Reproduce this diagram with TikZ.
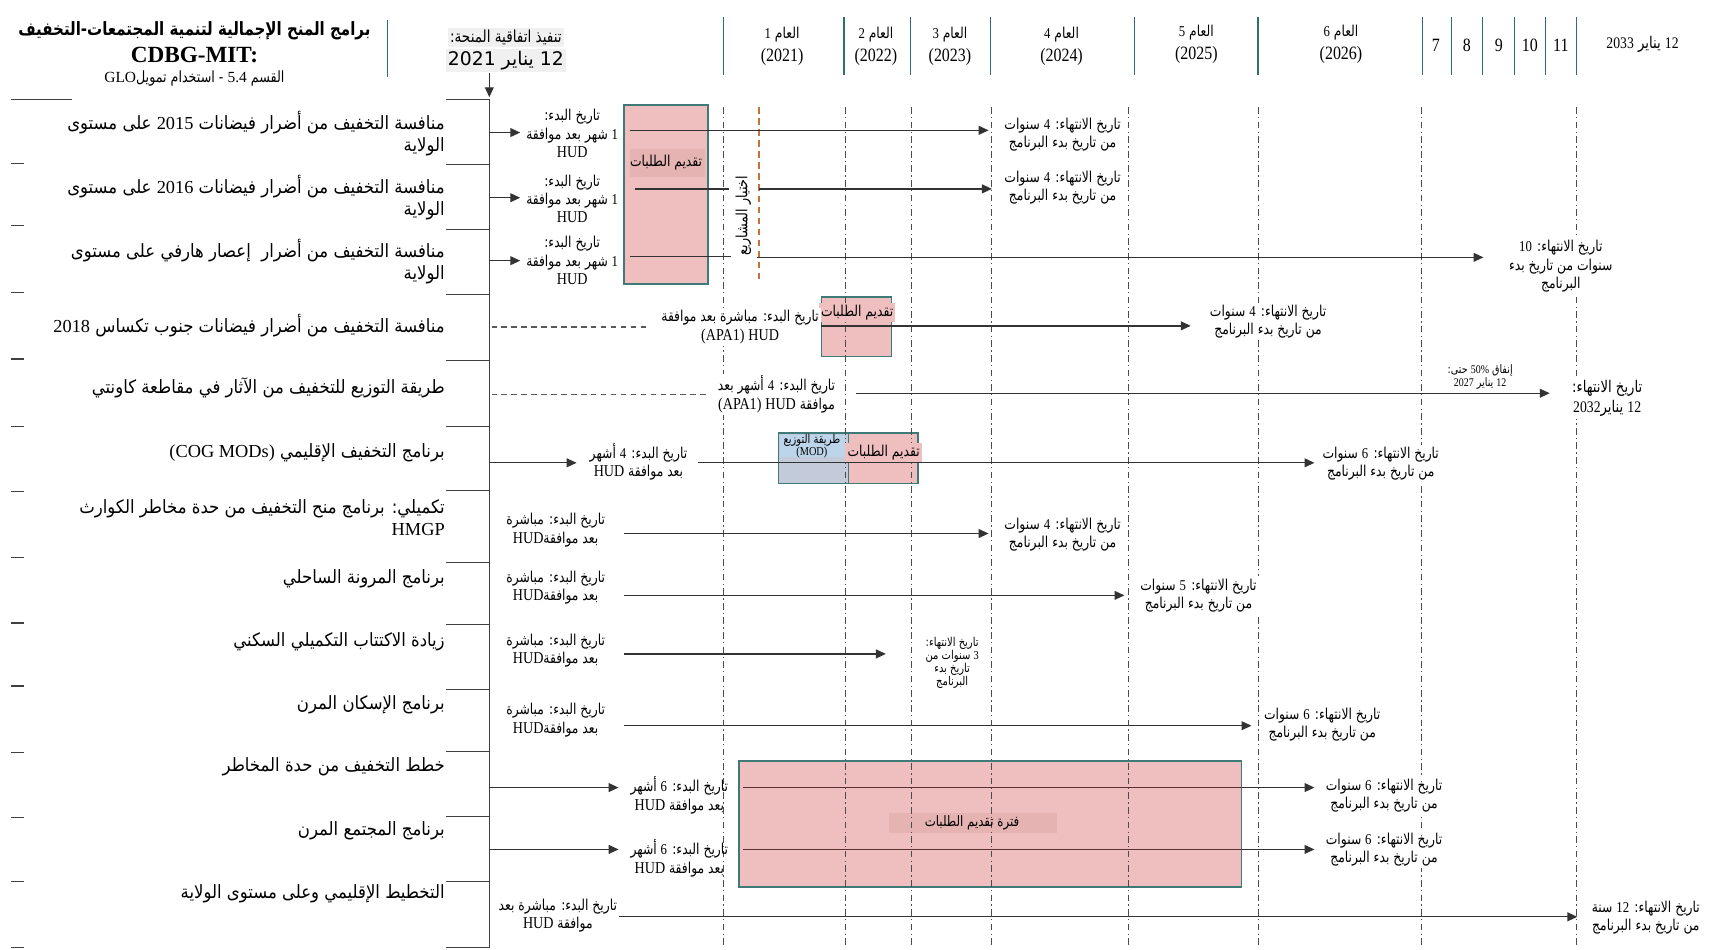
\documentclass[tikz,border=0pt]{standalone}
\usepackage{fontspec}
\setmainfont{Liberation Serif}
\newfontfamily\arabicfont[Script=Arabic]{DejaVu Sans}
\newfontfamily\arabicmid[Script=Arabic,FakeStretch=0.9]{DejaVu Sans}
\newfontfamily\arabicnarrow[Script=Arabic,FakeStretch=0.82]{DejaVu Sans}
\newfontfamily\serifnarrow[FakeStretch=0.85]{Liberation Serif}
\TeXXeTstate=1
\usetikzlibrary{arrows.meta}
\definecolor{pinkf}{HTML}{EFBFBF}
\definecolor{pinkd}{HTML}{E6B3B3}
\definecolor{tealb}{HTML}{3D7A78}
\definecolor{hdrteal}{HTML}{2F6F6B}
\definecolor{bluef}{HTML}{C3CAD9}
\definecolor{bluel}{HTML}{BDD5EA}
\definecolor{orng}{HTML}{C8703C}
\definecolor{maroon}{HTML}{5A3030}
\newcommand{\AR}[1]{\beginR #1\endR}
\newcommand{\LT}[1]{{\serifnarrow #1}}
\newcommand{\LR}[1]{{\rmfamily #1}}
\newcommand{\fsz}[2]{\fontsize{#1}{#2}\selectfont}
\tikzset{
  rowlbl/.style={anchor=east, align=right, inner sep=0pt, font=\arabicmid\fsz{8.3}{10}},
  smlbl/.style={align=center, inner sep=1pt, fill=white, font=\arabicnarrow\fsz{6.8}{8.3}},
  hdrlbl/.style={align=center, inner sep=0pt, font=\arabicnarrow\fsz{6.8}{10.5}},
  gridv/.style={draw=black!70, line width=0.4pt, dash pattern=on 3pt off 1.5pt on 0.6pt off 1.5pt},
  hdrv/.style={draw=hdrteal, line width=0.6pt},
  arrw/.style={draw=black!80, line width=0.6pt, -{Triangle[length=4.5pt,width=4pt]}},
  plainln/.style={draw=black!80, line width=0.6pt},
  dashln/.style={draw=black!65, line width=0.6pt, dash pattern=on 2.5pt off 2pt},
  seph/.style={draw=black!75, line width=0.5pt},
  pinkbx/.style={fill=pinkf, draw=tealb, line width=0.6pt},
  boxtxt/.style={inner sep=1pt, font=\arabicnarrow\fsz{6.8}{8}},
}
\begin{document}
\begin{tikzpicture}[x=0.5pt,y=-0.5pt]
\useasboundingbox (0,0) rectangle (1568,860);

% ---------- title ----------
\node[font=\arabicnarrow\bfseries\fsz{8.3}{10}] (t1) at (176,28) {\AR{برامج المنح الإجمالية لتنمية المجتمعات-التخفيف}};
\node[font=\bfseries\fsz{10.5}{12}] (t2) at (176,50) {CDBG-MIT:};
\node[font=\arabicnarrow\fsz{7}{8}] (t3) at (176,71) {\AR{القسم \LR{5.4} - استخدام تمويل\LR{GLO}}};
\draw[hdrv] (351,18) -- (351,70);

% ---------- grant agreement ----------
\node[fill=black!6, inner sep=1pt, font=\arabicnarrow\fsz{7.5}{9}] (g1) at (458,34) {\AR{تنفيذ اتفاقية المنحة:}};
\node[fill=black!6, inner sep=1pt, font=\arabicfont\fsz{8.5}{10}] (g2) at (458,55) {\AR{12 يناير 2021}};
\coordinate (gtop) at (443,66);
\coordinate (spinetop) at (443,88);
\coordinate (spinebot) at (443,858);
\draw[arrw] (gtop) -- (spinetop);
\draw[seph] (443,90) -- (spinebot);

% ---------- header years ----------
\foreach \xx in {655,764,824,897,1027,1139,1288,1314,1342,1371,1399,1427}
  \draw[hdrv] (\xx,15) -- (\xx,68);
\node[hdrlbl] (y1) at (708,42) {\AR{العام \LT{1}}\\\LT{\fsz{8.5}{10.5}(2021)}};
\node[hdrlbl] (y2) at (793,42) {\AR{العام \LT{2}}\\\LT{\fsz{8.5}{10.5}(2022)}};
\node[hdrlbl] (y3) at (860,42) {\AR{العام \LT{3}}\\\LT{\fsz{8.5}{10.5}(2023)}};
\node[hdrlbl] (y4) at (961,42) {\AR{العام \LT{4}}\\\LT{\fsz{8.5}{10.5}(2024)}};
\node[hdrlbl] (y5) at (1083,40) {\AR{العام \LT{5}}\\\LT{\fsz{8.5}{10.5}(2025)}};
\node[hdrlbl] (y6) at (1214,40) {\AR{العام \LT{6}}\\\LT{\fsz{8.5}{10.5}(2026)}};
\node[font=\serifnarrow\fsz{8.5}{10}] (y7) at (1300,41) {7};
\node[font=\serifnarrow\fsz{8.5}{10}] (y8) at (1328,41) {8};
\node[font=\serifnarrow\fsz{8.5}{10}] (y9) at (1357,41) {9};
\node[font=\serifnarrow\fsz{8.5}{10}] (y10) at (1385,41) {10};
\node[font=\serifnarrow\fsz{8.5}{10}] (y11) at (1413,41) {11};
\node[font=\arabicnarrow\fsz{7.3}{9}] (yend) at (1487,40) {\AR{\LT{12} يناير \LT{2033}}};

% ---------- left separators ----------
\draw[seph] (10,90) -- (65,90);
\foreach \yy in {148,204,265,325,386,445,505,564,621,681,740,798,858}
  \draw[seph] (10,\yy) -- (22,\yy);
\foreach \yy in {90,149,208,267,326,386,444,509,565,624,680,739,798,858}
  \draw[seph] (404,\yy) -- (443,\yy);

% ---------- boxes ----------
\draw[pinkbx] (565,95) rectangle (641,257);
\fill[pinkd] (570,135) rectangle (638,160);
\draw[pinkbx] (744,269) rectangle (807,323);
\draw[fill=bluef, draw=tealb, line width=0.6pt] (705,392) rectangle (768,438);
\fill[bluel] (706,394) rectangle (765,414);
\draw[pinkbx] (768,392) rectangle (831,438);
\draw[pinkbx] (669,689) rectangle (1124,803);
\fill[pinkd] (805,736) rectangle (957,754);

% ---------- vertical grid ----------
\foreach \xx in {655,765,825,898,1022,1139,1287,1427}
  \draw[gridv] (\xx,97) -- (\xx,858);
\draw[orng, line width=0.6pt, dash pattern=on 3pt off 2pt] (687,97) -- (687,255);

% ---------- box labels ----------
\node[boxtxt] (b1) at (603,147) {\AR{تقديم الطلبات}};
\node[boxtxt, fill=pinkf] (b2) at (776,283) {\AR{تقديم الطلبات}};
\node[boxtxt, font=\arabicnarrow\fsz{5.5}{5.5}, align=center] (b3) at (735,404) {\AR{طريقة التوزيع}\\\LT{(MOD)}};
\node[boxtxt, fill=pinkf] (b4) at (800,410) {\AR{تقديم الطلبات}};
\node[boxtxt, font=\arabicnarrow\fsz{6.5}{8}] (b5) at (880,745) {\AR{فترة تقديم الطلبات}};
\node[rotate=90, inner sep=0pt, font=\arabicnarrow\fsz{7}{8}] (sel) at (673,195) {\AR{اختيار المشاريع}};

% ---------- row labels ----------
\node[rowlbl] (r1) at (403,121) {\AR{منافسة التخفيف من أضرار فيضانات \LR{2015} على مستوى}\\\AR{الولاية}};
\node[rowlbl] (r2) at (403,179) {\AR{منافسة التخفيف من أضرار فيضانات \LR{2016} على مستوى}\\\AR{الولاية}};
\node[rowlbl] (r3) at (403,237) {\AR{منافسة التخفيف من أضرار \ إعصار هارفي على مستوى}\\\AR{الولاية}};
\node[rowlbl] (r4) at (403,295) {\AR{منافسة التخفيف من أضرار فيضانات جنوب تكساس \LR{2018}}};
\node[rowlbl] (r5) at (403,351) {\AR{طريقة التوزيع للتخفيف من الآثار في مقاطعة كاونتي}};
\node[rowlbl] (r6) at (403,410) {\AR{برنامج التخفيف الإقليمي \LR{\beginL(COG MODs)\endL}}};
\node[rowlbl] (r7) at (403,469) {\AR{تكميلي: برنامج منح التخفيف من حدة مخاطر الكوارث}\\\LR{HMGP}};
\node[rowlbl] (r8) at (403,524) {\AR{برنامج المرونة الساحلي}};
\node[rowlbl] (r9) at (403,581) {\AR{زيادة الاكتتاب التكميلي السكني}};
\node[rowlbl] (r10) at (403,638) {\AR{برنامج الإسكان المرن}};
\node[rowlbl] (r11) at (403,694) {\AR{خطط التخفيف من حدة المخاطر}};
\node[rowlbl] (r12) at (403,752) {\AR{برنامج المجتمع المرن}};
\node[rowlbl] (r13) at (403,809) {\AR{التخطيط الإقليمي وعلى مستوى الولاية}};

% ---------- coordinates ----------
\coordinate (p1) at (443,120); \coordinate (q1) at (471,120);
\coordinate (p2) at (443,179); \coordinate (q2) at (471,179);
\coordinate (p3) at (443,236); \coordinate (q3) at (471,236);
\coordinate (p4) at (445,296); \coordinate (q4) at (585,296);
\coordinate (p5) at (445,357); \coordinate (q5) at (640,357);
\coordinate (p6) at (443,419); \coordinate (q6) at (522,419);
\coordinate (p11) at (443,713); \coordinate (q11) at (560,713);
\coordinate (p12) at (443,769); \coordinate (q12) at (560,769);

\coordinate (a1) at (570,118); \coordinate (z1) at (895,118);
\coordinate (a2) at (575,171); \coordinate (m2) at (660,171); \coordinate (n2) at (687,171); \coordinate (z2) at (898,171);
\coordinate (a3) at (570,232); \coordinate (m3) at (662,232); \coordinate (n3) at (685,233); \coordinate (z3) at (1343,233);
\coordinate (a4) at (742,295); \coordinate (z4) at (1078,295);
\coordinate (a5) at (775,356); \coordinate (z5) at (1403,356);
\coordinate (a6) at (632,419); \coordinate (z6) at (1190,419);
\coordinate (a7) at (565,483); \coordinate (z7) at (895,483);
\coordinate (a8) at (565,539); \coordinate (z8) at (1018,539);
\coordinate (a9) at (565,592); \coordinate (z9) at (802,592);
\coordinate (a10) at (565,657); \coordinate (z10) at (1133,657);
\coordinate (a11) at (673,713); \coordinate (k11) at (1124,713); \coordinate (z11) at (1190,713);
\coordinate (a12) at (673,769); \coordinate (k12) at (1124,769); \coordinate (z12) at (1190,769);
\coordinate (a13) at (540,830); \coordinate (z13) at (1428,830);

% ---------- connectors ----------
\draw[arrw] (p1) -- (q1);
\draw[arrw] (p2) -- (q2);
\draw[arrw] (p3) -- (q3);
\draw[dashln] (p4) -- (q4);
\draw[dashln] (p5) -- (q5);
\draw[arrw] (p6) -- (q6);
\draw[arrw] (p11) -- (q11);
\draw[arrw] (p12) -- (q12);

\draw[arrw] (a1) -- (z1);
\draw[plainln] (a2) -- (m2);
\draw[arrw] (n2) -- (z2);
\draw[plainln] (a3) -- (m3);
\draw[arrw] (n3) -- (z3);
\draw[arrw] (a4) -- (z4);
\draw[arrw] (a5) -- (z5);
\draw[arrw] (a6) -- (z6);
\draw[arrw] (a7) -- (z7);
\draw[arrw] (a8) -- (z8);
\draw[arrw] (a9) -- (z9);
\draw[arrw] (a10) -- (z10);
\draw[plainln, draw=maroon] (a11) -- (k11);
\draw[arrw] (k11) -- (z11);
\draw[plainln, draw=maroon] (a12) -- (k12);
\draw[arrw] (k12) -- (z12);
\draw[arrw] (a13) -- (z13);

% ---------- start labels ----------
\node[smlbl] (s1) at (518,121) {\AR{تاريخ البدء:}\\\AR{\LT{1} شهر بعد موافقة}\\\LT{\fsz{7.5}{8.3}HUD}};
\node[smlbl] (s2) at (518,180) {\AR{تاريخ البدء:}\\\AR{\LT{1} شهر بعد موافقة}\\\LT{\fsz{7.5}{8.3}HUD}};
\node[smlbl] (s3) at (518,236) {\AR{تاريخ البدء:}\\\AR{\LT{1} شهر بعد موافقة}\\\LT{\fsz{7.5}{8.3}HUD}};
\node[smlbl] (s4) at (670,296) {\AR{تاريخ البدء: مباشرة بعد موافقة}\\\AR{\LT{\fsz{7.5}{8.3}HUD} \LT{\fsz{7.5}{8.3}(APA1)}}};
\node[smlbl] (s5) at (703,357) {\AR{تاريخ البدء: \LT{4} أشهر بعد}\\\AR{موافقة \LT{\fsz{7.5}{8.3}HUD} \LT{\fsz{7.5}{8.3}(APA1)}}};
\node[smlbl] (s6) at (578,418) {\AR{تاريخ البدء: \LT{4} أشهر}\\\AR{بعد موافقة \LT{\fsz{7.5}{8.3}HUD}}};
\node[smlbl] (s7) at (503,480) {\AR{تاريخ البدء: مباشرة}\\\AR{بعد موافقة\LT{\fsz{7.5}{8.3}HUD}}};
\node[smlbl] (s8) at (503,532) {\AR{تاريخ البدء: مباشرة}\\\AR{بعد موافقة\LT{\fsz{7.5}{8.3}HUD}}};
\node[smlbl] (s9) at (503,589) {\AR{تاريخ البدء: مباشرة}\\\AR{بعد موافقة\LT{\fsz{7.5}{8.3}HUD}}};
\node[smlbl] (s10) at (503,652) {\AR{تاريخ البدء: مباشرة}\\\AR{بعد موافقة\LT{\fsz{7.5}{8.3}HUD}}};
\node[smlbl, fill=none] (s11) at (615,720) {\AR{تاريخ البدء: \LT{6} أشهر}\\\AR{بعد موافقة \LT{\fsz{7.5}{8.3}HUD}}};
\node[smlbl, fill=none] (s12) at (615,777) {\AR{تاريخ البدء: \LT{6} أشهر}\\\AR{بعد موافقة \LT{\fsz{7.5}{8.3}HUD}}};
\node[smlbl] (s13) at (505,829) {\AR{تاريخ البدء: مباشرة بعد}\\\AR{موافقة \LT{\fsz{7.5}{8.3}HUD}}};

% ---------- end labels ----------
\node[smlbl] (e1) at (962,122) {\AR{تاريخ الانتهاء: \LT{4} سنوات}\\\AR{من تاريخ بدء البرنامج}};
\node[smlbl] (e2) at (962,170) {\AR{تاريخ الانتهاء: \LT{4} سنوات}\\\AR{من تاريخ بدء البرنامج}};
\node[smlbl] (e3) at (1413,241) {\AR{تاريخ الانتهاء: \LT{10}}\\\AR{سنوات من تاريخ بدء}\\\AR{البرنامج}};
\node[smlbl] (e4) at (1148,291) {\AR{تاريخ الانتهاء: \LT{4} سنوات}\\\AR{من تاريخ بدء البرنامج}};
\node[smlbl, font=\arabicnarrow\fsz{5.3}{6}, fill=none] (e5b) at (1340,341) {\AR{إنفاق \LT{50\%} حتى:}\\\AR{\LT{12} يناير \LT{2027}}};
\node[smlbl, font=\arabicnarrow\fsz{7.3}{9}] (e5) at (1455,361) {\AR{تاريخ الانتهاء:}\\\AR{\LT{12} يناير\LT{2032}}};
\node[smlbl] (e6) at (1250,420) {\AR{تاريخ الانتهاء: \LT{6} سنوات}\\\AR{من تاريخ بدء البرنامج}};
\node[smlbl] (e7) at (962,484) {\AR{تاريخ الانتهاء: \LT{4} سنوات}\\\AR{من تاريخ بدء البرنامج}};
\node[smlbl] (e8) at (1085,539) {\AR{تاريخ الانتهاء: \LT{5} سنوات}\\\AR{من تاريخ بدء البرنامج}};
\node[smlbl, font=\arabicnarrow\fsz{5.5}{5.8}] (e9) at (862,600) {\AR{تاريخ الانتهاء:}\\\AR{\LT{3} سنوات من}\\\AR{تاريخ بدء}\\\AR{البرنامج}};
\node[smlbl] (e10) at (1197,656) {\AR{تاريخ الانتهاء: \LT{6} سنوات}\\\AR{من تاريخ بدء البرنامج}};
\node[smlbl] (e11) at (1253,720) {\AR{تاريخ الانتهاء: \LT{6} سنوات}\\\AR{من تاريخ بدء البرنامج}};
\node[smlbl] (e12) at (1253,769) {\AR{تاريخ الانتهاء: \LT{6} سنوات}\\\AR{من تاريخ بدء البرنامج}};
\node[smlbl] (e13) at (1490,831) {\AR{تاريخ الانتهاء: \LT{12} سنة}\\\AR{من تاريخ بدء البرنامج}};
\end{tikzpicture}
\end{document}
